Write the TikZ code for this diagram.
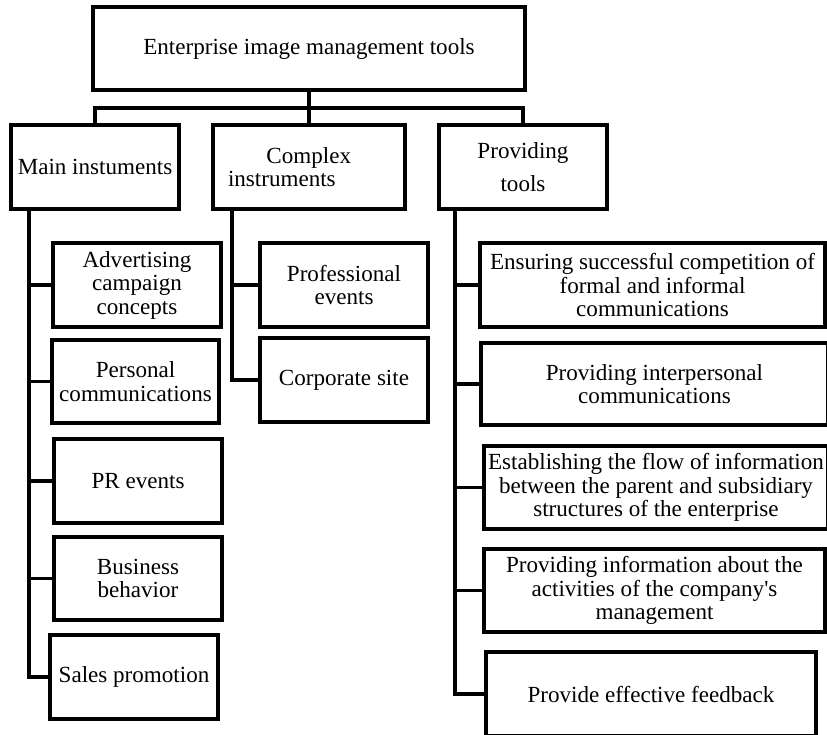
\documentclass[tikz,border=0pt]{standalone}
\usepackage{fontspec}
\setmainfont{Liberation Serif}
\begin{document}
\begin{tikzpicture}[x=0.52pt, y=-0.52pt,
        toolbox/.style n args={2}{draw, line width=1.8pt, minimum width=#1*0.52pt, minimum height=#2*0.52pt,
            inner sep=0pt, align=center, font=\fontsize{12}{12.2}\selectfont},
        link/.style={line width=1.8pt}]
        \useasboundingbox (0,0) rectangle (827,734);

        \node[toolbox={432}{83}] (top) at (309,48.5) {Enterprise image management tools};

        \node[toolbox={168}{84}] (main) at (95,167) {Main instuments};
        \node[toolbox={192}{84}, text width=162*0.52pt, align=left] (complex) at (309,167) {\hspace*{20pt}Complex\\instruments};
        \node[toolbox={168}{84}] (prov) at (523,167) {Providing\\[5pt]tools};

            \node[toolbox={168}{84}] (adv) at (137,285) {Advertising\\campaign\\concepts};
            \node[toolbox={167}{83}] (pers) at (135.5,381.5) {Personal\\communications};
            \node[toolbox={168}{84}] (pr) at (138,481) {PR events};
            \node[toolbox={168}{83}] (bus) at (138,578.5) {Business\\behavior};
            \node[toolbox={168}{84}] (sales) at (134,677) {Sales promotion};

            \node[toolbox={168}{84}] (prof) at (344,285) {Professional\\events};
            \node[toolbox={168}{84}] (corp) at (344,380) {Corporate site};

            \node[toolbox={345}{84}] (ens) at (652.5,285) {Ensuring successful competition of\\formal and informal\\communications};
            \node[toolbox={347}{82}] (inter) at (654.5,384) {Providing interpersonal\\communications};
            \node[toolbox={344}{83}] (est) at (656,487.5) {Establishing the flow of information\\between the parent and subsidiary\\structures of the enterprise};
            \node[toolbox={341}{83}] (info) at (654.5,590.5) {Providing information about the\\activities of the company\textquotesingle s\\management};
            \node[toolbox={330}{84}] (feed) at (651,694) {Provide effective feedback};

        \coordinate (bar) at (309,108);
        \draw[link] (top) -- (complex);
        \draw[link] (main.north) |- (bar) -| (prov.north);

        \coordinate (mainspine) at (29,209);
        \coordinate (complexspine) at (232,209);
        \coordinate (provspine) at (455,209);
        \foreach \n in {adv,pers,pr,bus,sales}
            \draw[link] (mainspine) |- (\n.west);
        \foreach \n in {prof,corp}
            \draw[link] (complexspine) |- (\n.west);
        \foreach \n in {ens,inter,est,info,feed}
            \draw[link] (provspine) |- (\n.west);

    \end{tikzpicture}
\end{document}
